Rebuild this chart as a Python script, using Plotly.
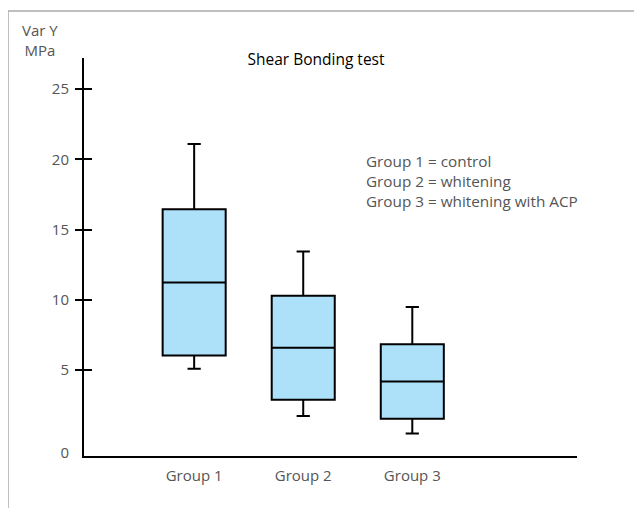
import plotly.graph_objects as go

categories = ["Group 1", "Group 2", "Group 3"]
lower_whisker = [5.1, 1.75, 0.5]
q1 = [6.05, 2.9, 1.55]
median = [11.25, 6.6, 4.2]
q3 = [16.45, 10.3, 6.85]
upper_whisker = [21.1, 13.45, 9.5]

y_ticks = [5, 10, 15, 20, 25]
y_tick_labels = ["5", "10", "15", "20", "25"]
zero_label_pos = -0.85
legend_lines = ["Group 1 = control", "Group 2 = whitening", "Group 3 = whitening with ACP"]

FONT = "Open Sans"
GRAY = "#555555"
FS = 15

# page has 8px body margin; work in page pixels and shift
OFF = 8
W, H = 642 - OFF, 508 - OFF
PL, PR, PT, PB = 84, 577, 58, 455.7  # plot area in page px
PW, PH = PR - PL, PB - PT

def px(xp):
    return (xp - PL) / PW

def py(yp):
    return (PB - yp) / PH

fig = go.Figure()
fig.add_trace(go.Box(
    x=categories,
    lowerfence=lower_whisker, q1=q1, median=median, q3=q3, upperfence=upper_whisker,
    fillcolor="#ade1fa",
    line=dict(color="black", width=2),
    width=0.578,
    whiskerwidth=0.21,
    boxpoints=False,
    hoverinfo="skip",
    showlegend=False,
))

yr = [-1.105, 27.22]
fig.update_layout(
    width=W, height=H,
    margin=dict(l=PL - OFF, r=W - (PR - OFF), t=PT - OFF, b=H - (PB - OFF)),
    paper_bgcolor="white", plot_bgcolor="white",
    font=dict(family=FONT, size=FS, color=GRAY),
    title=dict(text="Shear Bonding test", x=(316 - OFF) / W,
               xanchor="center", y=1 - (60 - OFF) / H, yanchor="middle",
               font=dict(family=FONT, size=15.5, color="black")),
    xaxis=dict(range=[-1.01, 3.51], showline=True, linecolor="black", linewidth=2,
               showgrid=False, zeroline=False, ticks="", tickfont=dict(size=FS, color=GRAY),
               ticklabelstandoff=5),
    yaxis=dict(range=yr, showline=True, linecolor="black", linewidth=2,
               showgrid=False, zeroline=False, ticks="",
               tickvals=[zero_label_pos] + y_ticks, ticktext=["0"] + y_tick_labels,
               tickfont=dict(size=FS, color=GRAY), ticklabelstandoff=10),
    yaxis2=dict(range=yr, overlaying="y", showline=False, showgrid=False, zeroline=False,
                tickvals=y_ticks, ticks="outside", ticklen=8, tickwidth=2, tickcolor="black",
                showticklabels=False),
    yaxis3=dict(range=yr, overlaying="y", showline=False, showgrid=False, zeroline=False,
                tickvals=y_ticks, ticks="inside", ticklen=8, tickwidth=2, tickcolor="black",
                showticklabels=False),
)
# invisible traces to activate overlay axes
fig.add_trace(go.Scatter(x=[categories[0]], y=[None], yaxis="y2", showlegend=False, hoverinfo="skip"))
fig.add_trace(go.Scatter(x=[categories[0]], y=[None], yaxis="y3", showlegend=False, hoverinfo="skip"))

fig.add_annotation(text="<br>".join(legend_lines), xref="paper", yref="paper",
                   x=px(364), y=py(181), xanchor="left", yanchor="middle",
                   align="left", showarrow=False, font=dict(size=15.3, color=GRAY))
fig.add_annotation(text="Var Y<br>MPa", xref="paper", yref="paper",
                   x=px(40), y=py(18), xanchor="center", yanchor="top",
                   align="center", showarrow=False, font=dict(size=FS, color=GRAY))
# outer frame
fig.add_shape(type="rect", xref="paper", yref="paper",
              x0=px(8), x1=px(700),
              y0=py(560), y1=py(11),
              line=dict(color="#aaaaaa", width=1.5), layer="below")

fig.write_html("out.html")
